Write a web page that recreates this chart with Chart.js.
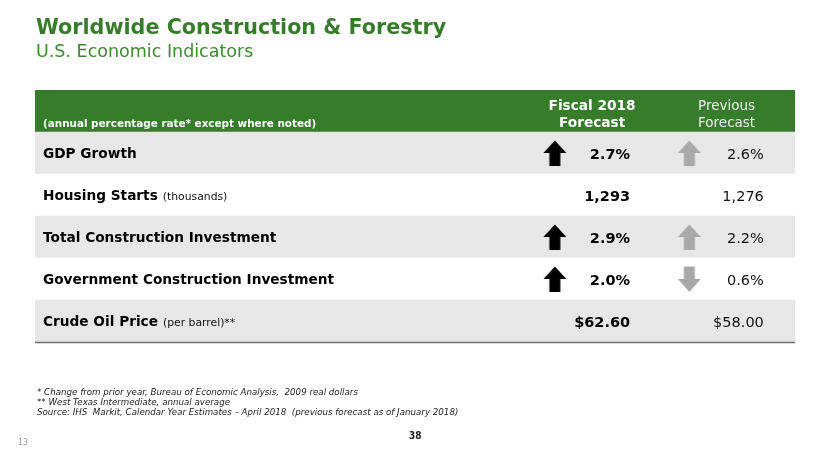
<!DOCTYPE html>
<html>
<head>
<meta charset="utf-8">
<script src="https://cdn.jsdelivr.net/npm/chart.js@4.4.1/dist/chart.umd.min.js"></script>
<style>
  html, body { margin: 0; padding: 0; background: #ffffff; }
  body { width: 830px; height: 467px; position: relative; overflow: hidden; font-family: "DejaVu Sans", Verdana, sans-serif; }
  #wrap { position: absolute; left: 0; top: 0; width: 830px; height: 467px; }
  .title { position: absolute; left: 36px; top: 15px; font-size: 20.7px; font-weight: bold; color: #367c2b; white-space: nowrap; }
  .subtitle { position: absolute; left: 36px; top: 41px; font-size: 17.5px; color: #3d8a30; white-space: nowrap; }
  .notes { position: absolute; left: 37px; top: 388px; font-size: 8.7px; font-style: italic; line-height: 9.8px; color: #222; white-space: pre; }
  .page { position: absolute; left: 409px; top: 430px; font-size: 10px; font-weight: bold; color: #222; font-family: "Liberation Sans Narrow", "DejaVu Sans Condensed", sans-serif; }
  .slide { position: absolute; left: 18px; top: 438px; font-size: 8px; color: #9a9a9a; }
</style>
</head>
<body>
<div id="wrap"><canvas id="c" width="830" height="467"></canvas></div>
<div class="title">Worldwide Construction &amp; Forestry</div>
<div class="subtitle">U.S. Economic Indicators</div>
<div class="notes">* Change from prior year, Bureau of Economic Analysis,  2009 real dollars
** West Texas Intermediate, annual average
Source: IHS  Markit, Calendar Year Estimates – April 2018  (previous forecast as of January 2018)</div>
<div class="page">38</div>
<div class="slide">13</div>
<script>
// ---------- DATA ----------
const headerNote = "(annual percentage rate* except where noted)";
const columnHeaders = [["Fiscal 2018", "Forecast"], ["Previous", "Forecast"]];
const rowLabels = ["GDP Growth", "Housing Starts", "Total Construction Investment", "Government Construction Investment", "Crude Oil Price"];
const rowNotes = ["", "(thousands)", "", "", "(per barrel)**"];
const fiscal2018 = [2.7, 1293, 2.9, 2.0, 62.60];
const previousForecast = [2.6, 1276, 2.2, 0.6, 58.00];
const valueUnits = ["%", "thousands", "%", "%", "$"];
const fiscalTrend = ["up", null, "up", "up", null];
const previousTrend = ["up", null, "up", "down", null];

// ---------- helpers ----------
function fmt(v, unit) {
  if (unit === "%") return v.toFixed(1) + "%";
  if (unit === "$") return "$" + v.toFixed(2);
  return v.toLocaleString("en-US");
}
function makeArrow(color, dir) {
  const cv = document.createElement("canvas");
  cv.width = 24; cv.height = 28;
  const g = cv.getContext("2d");
  g.fillStyle = color;
  g.beginPath();
  if (dir === "up") {
    g.moveTo(12, 1.5); g.lineTo(0.5, 14); g.lineTo(6.5, 14); g.lineTo(6.5, 27);
    g.lineTo(17.5, 27); g.lineTo(17.5, 14); g.lineTo(23.5, 14);
  } else {
    g.moveTo(12, 27); g.lineTo(0.5, 14); g.lineTo(6.5, 14); g.lineTo(6.5, 1.5);
    g.lineTo(17.5, 1.5); g.lineTo(17.5, 14); g.lineTo(23.5, 14);
  }
  g.closePath(); g.fill();
  return cv;
}
const arrows = {
  black_up: makeArrow("#000000", "up"),
  gray_up: makeArrow("#a8a8a8", "up"),
  gray_down: makeArrow("#a8a8a8", "down")
};

// column anchors on the 0..1 table axis
const COL = { label: 0.0105, fArrow: 0.684, fValue: 0.783, fHead: 0.733, pArrow: 0.861, pValue: 0.959, pHead: 0.91 };

const categories = ["header"].concat(rowLabels);
const rowColors = ["#367c2b", "#e7e7e7", "#ffffff", "#e7e7e7", "#ffffff", "#e7e7e7"];

function arrowData(trends, col) {
  const pts = [], styles = [];
  trends.forEach((t, i) => { if (t) { pts.push({ x: col, y: rowLabels[i] }); styles.push(t); } });
  return { pts, styles };
}
const fA = arrowData(fiscalTrend, COL.fArrow);
const pA = arrowData(previousTrend, COL.pArrow);

const tablePlugin = {
  id: "tableText",
  afterDatasetsDraw(chart) {
    const ctx = chart.ctx, xs = chart.scales.x, ys = chart.scales.y, area = chart.chartArea;
    ctx.save();
    // header
    const hy = ys.getPixelForValue(0);
    ctx.fillStyle = "#ffffff";
    ctx.textBaseline = "alphabetic";
    ctx.textAlign = "left";
    ctx.font = "bold 10.4px 'DejaVu Sans'";
    ctx.fillText(headerNote, xs.getPixelForValue(COL.label), hy + 15.5);
    ctx.textAlign = "center";
    ctx.font = "bold 13.7px 'DejaVu Sans'";
    ctx.fillText(columnHeaders[0][0], xs.getPixelForValue(COL.fHead), hy - 1);
    ctx.fillText(columnHeaders[0][1], xs.getPixelForValue(COL.fHead), hy + 16);
    ctx.fillStyle = "#eef2ec";
    ctx.font = "13.5px 'DejaVu Sans'";
    ctx.fillText(columnHeaders[1][0], xs.getPixelForValue(COL.pHead), hy - 1);
    ctx.fillText(columnHeaders[1][1], xs.getPixelForValue(COL.pHead), hy + 16);
    // rows
    ctx.textBaseline = "middle";
    rowLabels.forEach((lab, i) => {
      const y = ys.getPixelForValue(i + 1) + 1;
      const x0 = xs.getPixelForValue(COL.label);
      ctx.fillStyle = "#000000";
      ctx.textAlign = "left";
      ctx.font = "bold 13.7px 'DejaVu Sans'";
      ctx.fillText(lab, x0, y);
      if (rowNotes[i]) {
        const w = ctx.measureText(lab).width;
        ctx.font = "10.8px 'DejaVu Sans'";
        ctx.fillStyle = "#111111";
        ctx.fillText(rowNotes[i], x0 + w + 5, y + 1);
      }
      ctx.textAlign = "right";
      ctx.fillStyle = "#000000";
      ctx.font = "bold 14.5px 'DejaVu Sans'";
      ctx.fillText(fmt(fiscal2018[i], valueUnits[i]), xs.getPixelForValue(COL.fValue), y + 1.5);
      ctx.fillStyle = "#111111";
      ctx.font = "14.5px 'DejaVu Sans'";
      ctx.fillText(fmt(previousForecast[i], valueUnits[i]), xs.getPixelForValue(COL.pValue), y + 1.5);
    });
    // bottom rule
    ctx.strokeStyle = "#6f6f6f";
    ctx.lineWidth = 1.5;
    ctx.beginPath();
    ctx.moveTo(area.left, area.bottom + 0.5);
    ctx.lineTo(area.right, area.bottom + 0.5);
    ctx.stroke();
    ctx.restore();
  }
};

new Chart(document.getElementById("c"), {
  type: "bar",
  data: {
    labels: categories,
    datasets: [
      {
        type: "bar",
        indexAxis: "y",
        data: categories.map(() => [0, 1]),
        backgroundColor: rowColors,
        borderWidth: 0,
        barPercentage: 1,
        categoryPercentage: 1,
        order: 3
      },
      {
        type: "scatter",
        data: fA.pts,
        pointStyle: fA.styles.map(() => arrows.black_up),
        pointRadius: 12,
        order: 1
      },
      {
        type: "scatter",
        data: pA.pts,
        pointStyle: pA.styles.map(t => t === "up" ? arrows.gray_up : arrows.gray_down),
        pointRadius: 12,
        order: 1
      }
    ]
  },
  options: {
    responsive: false,
    devicePixelRatio: 1,
    animation: false,
    events: [],
    layout: { autoPadding: false, padding: { left: 35, right: 35, top: 90, bottom: 125 } },
    scales: {
      x: { type: "linear", min: 0, max: 1, offset: false, grid: { offset: false }, display: false },
      y: { type: "category", labels: categories, offset: true, display: false }
    },
    plugins: { legend: { display: false }, tooltip: { enabled: false }, title: { display: false } }
  },
  plugins: [tablePlugin]
});
</script>
</body>
</html>
